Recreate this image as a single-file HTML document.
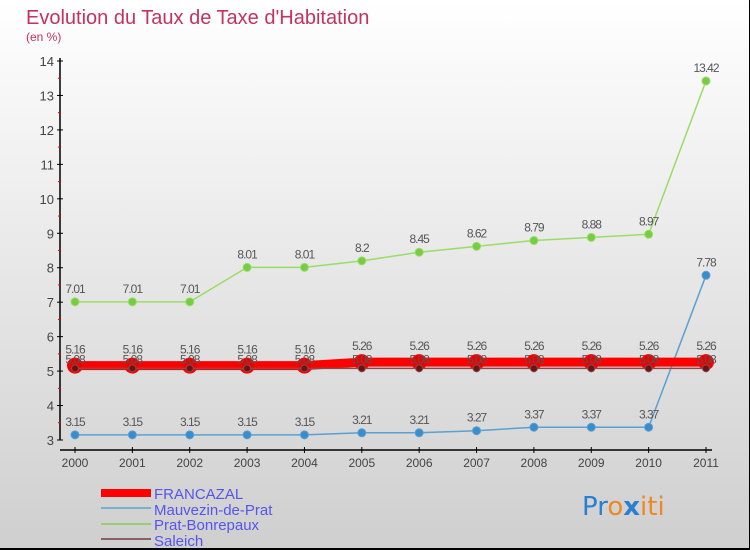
<!DOCTYPE html>
<html><head><meta charset="utf-8"><style>
body{margin:0}
#c{width:750px;height:550px;position:relative;background:linear-gradient(#ffffff,#cfcfcf);box-sizing:border-box;border-right:1px solid #000;border-bottom:2px solid #000;overflow:hidden;font-family:"Liberation Sans",sans-serif}
</style></head><body>
<div id="c">
<svg id="s" width="750" height="550">
<text x="26" y="24" font-size="20" fill="#c4325f">Evolution du Taux de Taxe d'Habitation</text>
<text x="26" y="41" font-size="12" fill="#c4325f">(en %)</text>
<g id="g"></g>
<g>
<rect x="101" y="489" width="50" height="8" fill="#ff0000"/>
<text x="154" y="499" font-size="15" fill="#5555ee">FRANCAZAL</text>
<line x1="101" y1="508" x2="151" y2="508" stroke="#7ab0cc" stroke-width="2"/>
<text x="154" y="515" font-size="15" fill="#5555ee">Mauvezin-de-Prat</text>
<line x1="101" y1="524" x2="151" y2="524" stroke="#99cc77" stroke-width="2"/>
<text x="154" y="530" font-size="15" fill="#5555ee">Prat-Bonrepaux</text>
<line x1="101" y1="539" x2="151" y2="539" stroke="#8b6060" stroke-width="2"/>
<text x="154" y="546" font-size="15" fill="#5555ee">Saleich</text>
</g>
<text x="582" y="515" font-size="26" font-family="'DejaVu Sans',sans-serif"><tspan fill="#2a7fd0">Pr</tspan><tspan fill="#ee8822">o</tspan><tspan fill="#2a7fd0" font-weight="bold">x</tspan><tspan fill="#ee8822">iti</tspan></text>
</svg></div>
<script>
const years=[2000,2001,2002,2003,2004,2005,2006,2007,2008,2009,2010,2011];
const yTicks=[3,4,5,6,7,8,9,10,11,12,13,14];
const francazal=[5.16,5.16,5.16,5.16,5.16,5.26,5.26,5.26,5.26,5.26,5.26,5.26];
const mauvezin=[3.15,3.15,3.15,3.15,3.15,3.21,3.21,3.27,3.37,3.37,3.37,7.78];
const prat=[7.01,7.01,7.01,8.01,8.01,8.2,8.45,8.62,8.79,8.88,8.97,13.42];
const saleich=[5.08,5.08,5.08,5.08,5.08,5.08,5.08,5.08,5.08,5.08,5.08,5.08];
const NS="http://www.w3.org/2000/svg";
const g=document.getElementById('g');
const X=i=>75+i*(706-75)/11;
const Y=v=>440-(v-3)*(440-61)/11;
function el(t,a,p){const e=document.createElementNS(NS,t);for(const k in a)e.setAttribute(k,a[k]);(p||g).appendChild(e);return e;}
let ax=el('line',{x1:60,y1:58,x2:60,y2:440,stroke:'#000','stroke-width':1.5});


let bx=el('line',{x1:60,y1:450,x2:712,y2:450,stroke:'#000','stroke-width':1.5});


yTicks.forEach(v=>{
 el('line',{x1:57,y1:Y(v),x2:63,y2:Y(v),stroke:'#000'});
 if(v<14)el('line',{x1:58,y1:Y(v+0.5),x2:61,y2:Y(v+0.5),stroke:'#e00'});
 const t=el('text',{x:54,y:Y(v)+5,'font-size':13,fill:'#444','text-anchor':'end'});t.textContent=v;
 
 
});
years.forEach((yr,i)=>{
 el('line',{x1:X(i),y1:447,x2:X(i),y2:453,stroke:'#000'});
 const t=el('text',{x:X(i),y:467,'font-size':12,fill:'#444','text-anchor':'middle'});t.textContent=yr;
 
 
});
function series(name,data,color,w,r,mfill,dy){
 const pts=data.map((v,i)=>X(i)+','+Y(v)).join(' ');
 const pl=el('polyline',{points:pts,fill:'none',stroke:color,'stroke-width':w});
 
 
 data.forEach((v,i)=>{
  const c=el('circle',{cx:X(i),cy:Y(v),r:r,fill:mfill,stroke:color,'stroke-width':1});
  
  
  const t=el('text',{x:X(i),y:Y(v)-dy,'font-size':12,fill:'#555','text-anchor':'middle','letter-spacing':'-1'});t.textContent=v;
  
  
 });
}
series('mauvezin',mauvezin,'#5aa0d0',1.5,4,'#3a8ccc',9);
series('prat-bonrepaux',prat,'#99dd66',1.5,4,'#77cc44',9);
series('francazal',francazal,'#ff0000',9,7.5,'#ee0000',12);
series('saleich',saleich,'#8b4a4a',1.5,3.5,'#6a1515',5);
</script>
</body></html>
